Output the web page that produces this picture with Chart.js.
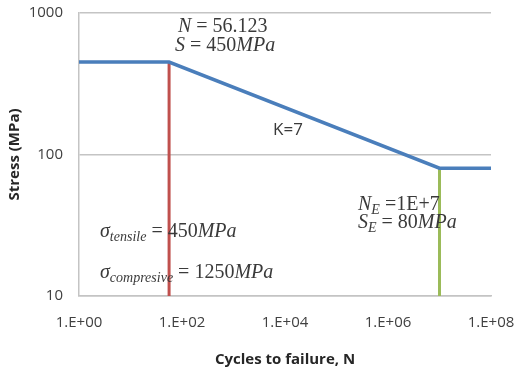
<!DOCTYPE html>
<html>
<head>
<meta charset="utf-8">
<script src="https://cdn.jsdelivr.net/npm/chart.js@4/dist/chart.umd.min.js"></script>
<style>
html,body{margin:0;padding:0;background:#fff;}
#wrap{width:517px;height:370px;position:relative;}
</style>
</head>
<body>
<div id="wrap"><canvas id="c" width="517" height="370"></canvas></div>
<script>
// ---- data ----
const snCycles = [1, 56.123, 1e7, 1e8];
const snStress = [450, 450, 80, 80];
const ultCycles = [56.123, 56.123];
const ultStress = [10, 450];
const endCycles = [1e7, 1e7];
const endStress = [10, 80];
const xTickValues = [1, 1e2, 1e4, 1e6, 1e8];
const yTickValues = [10, 100, 1000];
const xTitle = 'Cycles to failure, N';
const yTitle = 'Stress (MPa)';

// annotation texts (segments: t=text, i=italic, s=subscript)
const notes = [
  {x:178, y:27, segs:[{t:'N',i:1},{t:' = 56.123'}]},
  {x:175, y:46, segs:[{t:'S',i:1},{t:' = 450'},{t:'MPa',i:1}]},
  {x:273, y:130, sans:true, segs:[{t:'K=7'}]},
  {x:358, y:205, segs:[{t:'N',i:1},{t:'E',i:1,s:1},{t:' =1E+7'}]},
  {x:358, y:223, segs:[{t:'S',i:1},{t:'E',i:1,s:1},{t:' = 80'},{t:'MPa',i:1}]},
  {x:100, y:232, segs:[{t:'σ',i:1},{t:'tensile',i:1,s:1},{t:' = 450'},{t:'MPa',i:1}]},
  {x:100, y:273, segs:[{t:'σ',i:1},{t:'compresive',i:1,s:1},{t:' = 1250'},{t:'MPa',i:1}]}
];

const toPts = (xs, ys) => xs.map((x, i) => ({x, y: ys[i]}));

const notePlugin = {
  id: 'notes',
  afterDatasetsDraw(chart) {
    const ctx = chart.ctx;
    ctx.save();
    ctx.textBaseline = 'middle';
    ctx.textAlign = 'left';
    ctx.fillStyle = '#3a3a3a';
    notes.forEach(n => {
      let x = n.x;
      n.segs.forEach(s => {
        if (n.sans) {
          ctx.font = '17px "Open Sans", sans-serif';
          ctx.fillText(s.t, x, n.y);
          x += ctx.measureText(s.t).width;
          return;
        }
        const size = s.s ? 14 : 20;
        ctx.font = (s.i ? 'italic ' : '') + size + 'px "Liberation Serif", serif';
        ctx.fillText(s.t, x, n.y + (s.s ? 5 : 0));
        x += ctx.measureText(s.t).width;
      });
    });
    ctx.restore();
  }
};

const fmtX = v => {
  const e = Math.round(Math.log10(v));
  return '1.E+' + String(e).padStart(2, '0');
};

new Chart(document.getElementById('c'), {
  type: 'line',
  data: {
    datasets: [
      {data: toPts(snCycles, snStress), borderColor: '#4a7ebb', borderWidth: 3.5, pointRadius: 0, tension: 0, order: 1},
      {data: toPts(ultCycles, ultStress), borderColor: '#c0504d', borderWidth: 3, pointRadius: 0, order: 2},
      {data: toPts(endCycles, endStress), borderColor: '#9bbb59', borderWidth: 3, pointRadius: 0, order: 2}
    ]
  },
  options: {
    responsive: false,
    animation: false,
    devicePixelRatio: 1,
    layout: {padding: {top: 13, right: 26, left: 0, bottom: 0}},
    plugins: {legend: {display: false}, tooltip: {enabled: false}},
    scales: {
      x: {
        type: 'logarithmic', min: 1, max: 1e8,
        afterBuildTicks: s => { s.ticks = xTickValues.map(v => ({value: v})); },
        afterFit: s => { s.height = 74; s.paddingLeft = 0; s.paddingRight = 0; },
        ticks: {callback: v => fmtX(v), color: '#404040', font: {family: '"Open Sans", sans-serif', size: 15}, padding: 18, maxRotation: 0, autoSkip: false},
        grid: {display: true, color: 'rgba(0,0,0,0)', drawTicks: false},
        border: {display: true, color: '#c4c4c4', width: 1.5},
        title: {display: true, text: xTitle, color: '#262626', font: {family: '"Open Sans", sans-serif', size: 15, weight: 'bold'}, padding: {top: 0, bottom: 1}}
      },
      y: {
        type: 'logarithmic', min: 10, max: 1000,
        afterBuildTicks: s => { s.ticks = yTickValues.map(v => ({value: v})); },
        afterFit: s => { s.width = 79; s.paddingTop = 0; s.paddingBottom = 0; },
        ticks: {callback: v => String(v), color: '#404040', font: {family: '"Open Sans", sans-serif', size: 15}, padding: 16, autoSkip: false},
        grid: {color: '#c4c4c4', lineWidth: 1.5, drawTicks: false},
        border: {display: true, color: '#c4c4c4', width: 1.5},
        title: {display: true, text: yTitle, color: '#262626', font: {family: '"Open Sans", sans-serif', size: 15, weight: 'bold'}, padding: {top: 6, bottom: 0}}
      }
    }
  },
  plugins: [notePlugin]
});
</script>
</body>
</html>
